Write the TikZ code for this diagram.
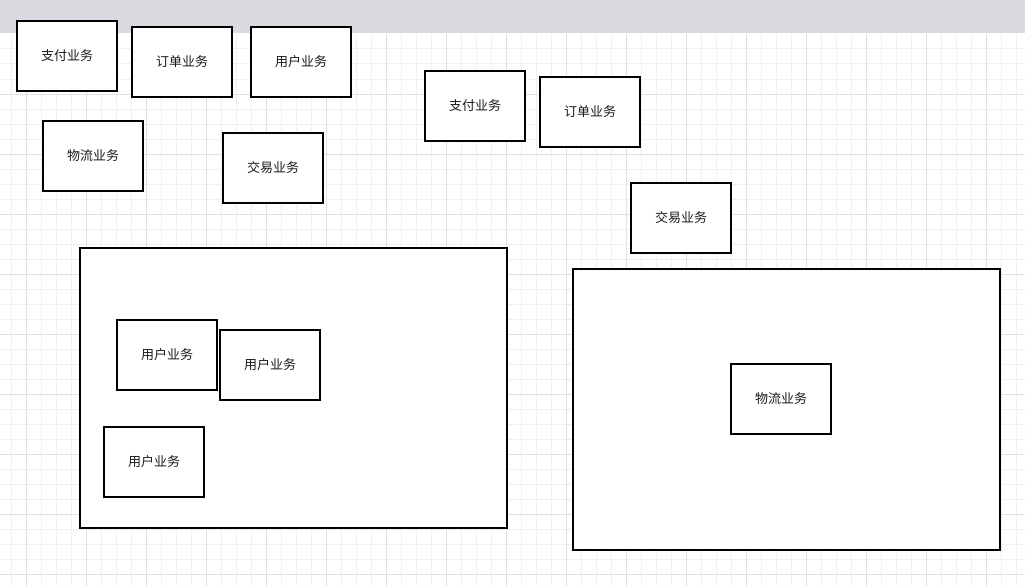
\documentclass[tikz,border=0pt]{standalone}
\usepackage{fontspec}
\newfontfamily\cjk{Noto Sans CJK SC}
\definecolor{barcol}{RGB}{218,219,224}
\definecolor{gridminor}{RGB}{240,240,240}
\definecolor{gridmajor}{RGB}{224,224,224}
\definecolor{txt}{RGB}{25,25,25}
\tikzset{
  box/.style={draw=black, line width=2pt, fill=white, minimum width=100pt, minimum height=70pt,
    inner sep=0pt, font=\cjk\fontsize{13}{15}\selectfont, text=txt},
  container/.style={draw=black, line width=2pt, fill=white, inner sep=0pt},
  minorline/.style={draw=gridminor, line width=1pt},
  majorline/.style={draw=gridmajor, line width=1pt}
}
\begin{document}
\begin{tikzpicture}[x=1pt,y=-1pt]
\useasboundingbox (0,0) rectangle (1025,586);
\fill[white] (0,0) rectangle (1025,586);
% grid
\foreach \i in {0,...,67} {\draw[minorline] ({11.7+15*\i},34) -- ({11.7+15*\i},586);}
\foreach \i in {0,...,36} {\draw[minorline] (0,{49+15*\i}) -- (1025,{49+15*\i});}
\foreach \i in {0,...,16} {\draw[majorline] ({26.7+60*\i},34) -- ({26.7+60*\i},586);}
\foreach \i in {0,...,8} {\draw[majorline] (0,{94+60*\i}) -- (1025,{94+60*\i});}
% top bar
\fill[barcol] (0,0) rectangle (1025,33.5);
% left group
\node[box] (zf1) at (67,56) {支付业务};
\node[box] (dd1) at (182,62) {订单业务};
\node[box] (yh1) at (301,62) {用户业务};
\node[box] (wl1) at (93,156) {物流业务};
\node[box] (jy1) at (273,168) {交易业务};
% middle group
\node[box] (zf2) at (475,106) {支付业务};
\node[box] (dd2) at (590,112) {订单业务};
\node[box] (jy2) at (681,218) {交易业务};
% containers
\node[container, minimum width=427pt, minimum height=280pt] (cl) at (293.5,388) {};
\node[container, minimum width=427pt, minimum height=281pt] (cr) at (786.5,409.5) {};
% inside left container
\node[box] (yh2) at (167,355) {用户业务};
\node[box] (yh3) at (270,365) {用户业务};
\node[box] (yh4) at (154,462) {用户业务};
% inside right container
\node[box] (wl2) at (781,399) {物流业务};
\end{tikzpicture}
\end{document}
